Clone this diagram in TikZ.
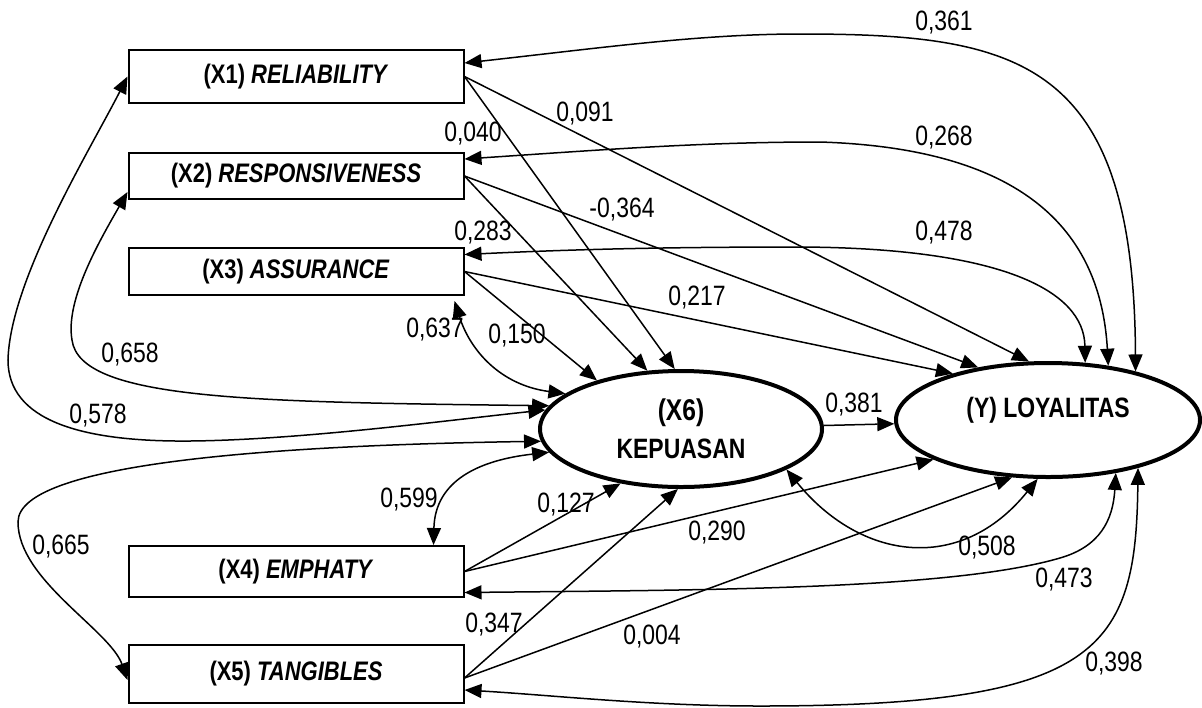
\documentclass[tikz,border=0pt]{standalone}
\usepackage{fontspec}
\newfontfamily\narrowfont[FakeStretch=0.82]{Liberation Sans}
\usetikzlibrary{calc}
\usetikzlibrary{shapes.geometric}
\usetikzlibrary{arrows.meta}

\begin{document}
\begin{tikzpicture}[x=0.5pt, y=-0.5pt,
  every node/.style={font=\narrowfont\fontsize{14}{19}\selectfont},
  indicator/.style={draw, line width=1pt, fill=white, minimum width=167.5pt, inner sep=0pt,
    font=\narrowfont\bfseries\fontsize{13.4}{19}\selectfont},
  latent/.style={draw, ellipse, line width=2pt, inner sep=0pt, align=center,
    font=\narrowfont\bfseries\fontsize{14}{19}\selectfont},
  effect/.style={line width=0.75pt, -{Triangle[length=8.5pt,width=7pt]}},
  covar/.style={line width=0.75pt, {Triangle[length=8.5pt,width=7pt]}-{Triangle[length=8.5pt,width=7pt]}},
  coef/.style={inner sep=0pt}]

  \fill[white] (0,0) rectangle (1202,707);
  \useasboundingbox (0,0) rectangle (1202,707);

  \node[indicator, minimum height=26.5pt] (rel) at (296,76.5) {(X1) \textit{RELIABILITY}};
  \node[indicator, minimum height=23pt] (res) at (296,176) {(X2) \textit{RESPONSIVENESS}};
  \node[indicator, minimum height=23.5pt] (asu) at (296,271.5) {(X3) \textit{ASSURANCE}};
  \node[indicator, minimum height=25.5pt] (emp) at (296,571.5) {(X4) \textit{EMPHATY}};
  \node[indicator, minimum height=29pt] (tan) at (296,674) {(X5) \textit{TANGIBLES}};
  \node[latent, minimum width=141pt, minimum height=58pt] (kep) at (681,429) {{\fontsize{15}{19}\selectfont (X6)}\\KEPUASAN};
  \node[latent, minimum width=152pt, minimum height=57pt, text depth=13pt] (loy) at (1048,420) {(Y) LOYALITAS};

  \draw[effect] (rel.east) -- (kep.96);
  \draw[effect] (rel.east) -- (loy.108);
  \draw[effect] (res.east) -- (kep.120);
  \draw[effect] (res.east) -- (loy.143);
  \draw[effect] (asu.east) -- (kep.150);
  \draw[effect] (asu.east) -- (loy.154);
  \draw[effect] (emp.east) -- (kep.222);
  \draw[effect] (emp.east) -- (loy.199);
  \draw[effect] ($(tan.east)+(0,4)$) -- (kep.267);
  \draw[effect] ($(tan.east)+(0,4)$) -- (loy.238);
  \draw[effect] (kep) -- (loy);

  \draw[covar] ($(rel.east)+(0,-13.5)$) .. controls (600,48) and (700,34) .. (800,34)
    .. controls (1020,34) and (1134,60) .. (loy.29);
  \draw[covar] ($(res.east)+(0,-17)$) .. controls (600,150) and (700,142) .. (820,142)
    .. controls (1010,148) and (1100,220) .. (loy.42);
  \draw[covar] ($(asu.east)+(0,-17)$) .. controls (560,250) and (650,247) .. (800,247)
    .. controls (1000,248) and (1084,290) .. (loy.57);
  \draw[covar] ($(asu.south east)+(-10,5)$) .. controls (470,350) and (500,385) .. (kep.163);
  \draw[covar] ($(res.west)+(0,16)$) .. controls (100,240) and (65,300) .. (72,340)
    .. controls (80,400) and (250,402) .. (kep.170);
  \draw[covar] (rel.west) .. controls (90,150) and (10,280) .. (8,360)
    .. controls (8,420) and (80,442) .. (190,441) .. controls (300,440) and (450,420) .. (kep.172);
  \draw[covar] (kep.185) .. controls (300,445) and (18,460) .. (18,522)
    .. controls (18,580) and (110,630) .. ($(tan.west)+(0,6)$);
  \draw[covar] (kep.190) .. controls (480,460) and (435,480) .. ($(emp.north east)+(-31,0)$);
  \draw[covar] (kep.339) .. controls (860,560) and (960,575) .. (loy.260);
  \draw[covar] ($(emp.east)+(0,21)$) .. controls (700,590) and (950,590) .. (1060,558)
    .. controls (1100,546.5) and (1113,520) .. (loy.322);
  \draw[covar] ($(tan.east)+(0,16)$) .. controls (550,695) and (650,706) .. (760,706)
    .. controls (1100,706) and (1136,650) .. (loy.332);

  \node[coef] (w361) at (944,23) {0,361};
  \node[coef] (w091) at (585,114) {0,091};
  \node[coef] (w040) at (473,134) {0,040};
  \node[coef] (w268) at (944,138) {0,268};
  \node[coef] (w364) at (622,210) {-0,364};
  \node[coef] (w283) at (483,233) {0,283};
  \node[coef] (w478) at (944,233) {0,478};
  \node[coef] (w217) at (697,298) {0,217};
  \node[coef] (w637) at (435,330) {0,637};
  \node[coef] (w150) at (517,336) {0,150};
  \node[coef] (w658) at (130,355) {0,658};
  \node[coef] (w578) at (98,416) {0,578};
  \node[coef] (w381) at (854,405) {0,381};
  \node[coef] (w599) at (409,500) {0,599};
  \node[coef] (w127) at (566,505) {0,127};
  \node[coef] (w665) at (61,547) {0,665};
  \node[coef] (w290) at (717,533) {0,290};
  \node[coef] (w508) at (987,548) {0,508};
  \node[coef] (w473) at (1064,580) {0,473};
  \node[coef] (w347) at (494,624) {0,347};
  \node[coef] (w004) at (652,637) {0,004};
  \node[coef] (w398) at (1114,663) {0,398};
\end{tikzpicture}
\end{document}
